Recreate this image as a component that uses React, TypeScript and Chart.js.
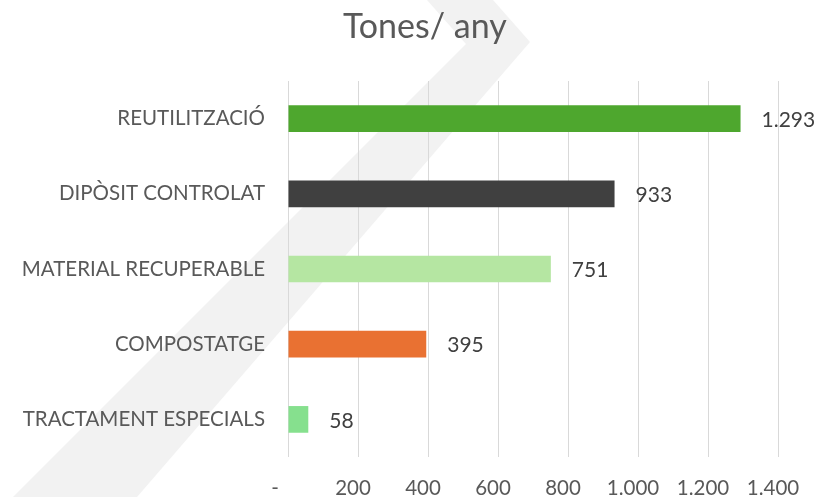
import React, { useEffect, useRef } from "react";
import { Chart, registerables } from "chart.js";

Chart.register(...registerables);

const categories = [
  "REUTILITZACIÓ",
  "DIPÒSIT CONTROLAT",
  "MATERIAL RECUPERABLE",
  "COMPOSTATGE",
  "TRACTAMENT ESPECIALS",
];
const values = [1293, 933, 751, 395, 58];
const barColors = ["#4EA72E", "#404040", "#B5E6A2", "#E97132", "#86E08E"];
const titleText = "Tones/ any";
const xMin = 0;
const xMax = 1400;
const xStep = 200;

const FONT = "Lato, 'Open Sans', sans-serif";

function fmt(v: number): string {
  if (v === 0) return "-";
  const s = Math.round(v).toString();
  return s.replace(/\B(?=(\d{3})+(?!\d))/g, ".");
}

const watermark = {
  id: "watermark",
  beforeDraw(chart: any) {
    const { ctx, width, height } = chart;
    const pts = [
      [427 / 833, 0],
      [493 / 833, 0],
      [530 / 833, 42 / 497],
      [137 / 833, 1],
      [13 / 833, 1],
      [466 / 833, 44 / 497],
    ];
    ctx.save();
    ctx.fillStyle = "#FFFFFF";
    ctx.fillRect(0, 0, width, height);
    ctx.beginPath();
    pts.forEach(([px, py], i) => {
      const x = px * width;
      const y = py * height;
      if (i === 0) ctx.moveTo(x, y);
      else ctx.lineTo(x, y);
    });
    ctx.closePath();
    ctx.fillStyle = "#F2F2F2";
    ctx.fill();
    ctx.restore();
  },
};

const titleDraw = {
  id: "titleDraw",
  afterDraw(chart: any) {
    const { ctx, width } = chart;
    ctx.save();
    ctx.font = `34px ${FONT}`;
    ctx.fillStyle = "#595959";
    ctx.textAlign = "center";
    ctx.textBaseline = "alphabetic";
    ctx.fillText(titleText, width * 0.51, 38);
    ctx.restore();
  },
};

const valueLabels = {
  id: "valueLabels",
  afterDatasetsDraw(chart: any) {
    const { ctx } = chart;
    const meta = chart.getDatasetMeta(0);
    ctx.save();
    ctx.font = `21px ${FONT}`;
    ctx.fillStyle = "#404040";
    ctx.textAlign = "left";
    ctx.textBaseline = "middle";
    meta.data.forEach((bar: any, i: number) => {
      ctx.fillText(fmt(values[i]), bar.x + 21, bar.y + 1.5);
    });
    ctx.restore();
  },
};

export default function App() {
  const ref = useRef<HTMLCanvasElement | null>(null);

  useEffect(() => {
    if (!ref.current) return;
    const chart = new Chart(ref.current, {
      type: "bar",
      data: {
        labels: categories,
        datasets: [
          {
            data: values,
            backgroundColor: barColors,
            borderWidth: 0,
            categoryPercentage: 1,
            barPercentage: 0.355,
          },
        ],
      },
      options: {
        indexAxis: "y",
        animation: false,
        responsive: true,
        maintainAspectRatio: false,
        layout: { padding: { left: 0, right: 55, top: 81, bottom: 0 } },
        plugins: {
          legend: { display: false },
          tooltip: { enabled: false },
          title: { display: false },
        },
        scales: {
          x: {
            min: xMin,
            max: xMax,
            afterFit: (scale: any) => {
              scale.height = 40;
            },
            ticks: {
              stepSize: xStep,
              color: "#595959",
              font: { family: FONT, size: 20.5 },
              padding: 19,
              labelOffset: -5,
              callback: (v: any) => (Number(v) === 0 ? "-   " : fmt(Number(v))),
            },
            grid: {
              color: "#D9D9D9",
              lineWidth: 1,
              drawTicks: false,
            },
            border: { display: false },
          },
          y: {
            afterFit: (scale: any) => {
              scale.width = 288;
            },
            ticks: {
              color: "#595959",
              font: { family: FONT, size: 20.5 },
              padding: 23,
            },
            grid: { display: false, drawTicks: false },
            border: { display: false },
          },
        },
      },
      plugins: [watermark, valueLabels, titleDraw],
    });
    return () => chart.destroy();
  }, []);

  return (
    <div style={{ position: "fixed", left: 0, top: 0, width: 833, height: 497 }}>
      <canvas ref={ref} />
    </div>
  );
}
